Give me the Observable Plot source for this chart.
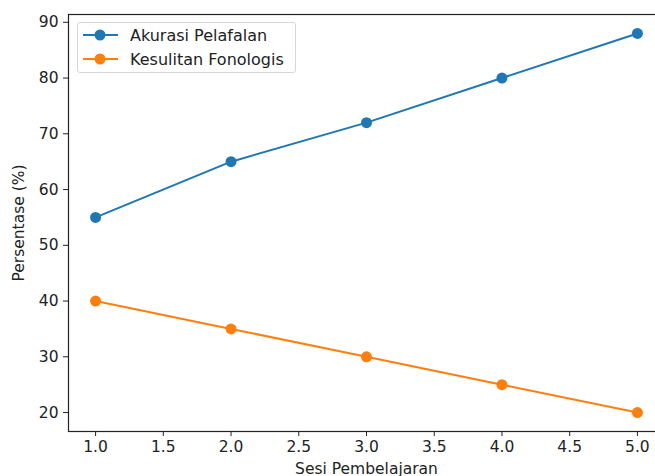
<!DOCTYPE html>
<html>
<head>
<meta charset="utf-8">
<script src="https://cdn.jsdelivr.net/npm/d3@7"></script>
<script src="https://cdn.jsdelivr.net/npm/@observablehq/plot@0.6"></script>
<style>
  html, body { margin: 0; padding: 0; background: #fff; overflow: hidden; width: 655px; height: 476px; }
  #wrap { position: relative; width: 655px; height: 476px; overflow: hidden; }
  #wrap > svg { max-width: none !important; position: absolute; left: 0; top: 0; }
  #legend { position: absolute; left: 77px; top: 22px; width: 219px; height: 51px; box-sizing: border-box;
    border: 1px solid #d6d6d6; border-radius: 3px; background: rgba(255,255,255,0.8);
    font-family: "DejaVu Sans", sans-serif; font-size: 16px; color: #222; }
  .row { position: absolute; left: 4px; height: 20px; display: flex; align-items: center; white-space: nowrap; }
  .row svg { margin-right: 11px; }
</style>
</head>
<body>
<div id="wrap"></div>
<script>
const sesi = [1, 2, 3, 4, 5];
const akurasi = [55, 65, 72, 80, 88];
const kesulitan = [40, 35, 30, 25, 20];
const seriesNames = ["Akurasi Pelafalan", "Kesulitan Fonologis"];
const seriesColors = ["#1f77b4", "#ff7f0e"];
const xTicks = [1, 1.5, 2, 2.5, 3, 3.5, 4, 4.5, 5];
const yTicks = [20, 30, 40, 50, 60, 70, 80, 90];

const data = [];
sesi.forEach((s, i) => data.push({sesi: s, nilai: akurasi[i], seri: seriesNames[0]}));
sesi.forEach((s, i) => data.push({sesi: s, nilai: kesulitan[i], seri: seriesNames[1]}));

const chart = Plot.plot({
  width: 672,
  height: 476,
  marginLeft: 68,
  marginRight: 8,
  marginTop: 14,
  marginBottom: 45,
  style: {fontFamily: "DejaVu Sans, sans-serif", fontSize: "15.5px", color: "#222", background: "#fff", maxWidth: "none"},
  x: {domain: [0.8, 5.2], ticks: xTicks, tickFormat: d => d.toFixed(1)},
  y: {domain: [16.6, 91.4], ticks: yTicks},
  color: {domain: seriesNames, range: seriesColors},
  marks: [
    Plot.frame({stroke: "#222", strokeWidth: 1.2}),
    Plot.axisX({ticks: xTicks, tickFormat: d => d.toFixed(1), tickSize: 5, tickPadding: 4, stroke: "#222",
      label: "Sesi Pembelajaran", labelAnchor: "center", labelArrow: false, labelOffset: 42, fontSize: 15.5}),
    Plot.axisY({ticks: yTicks, tickSize: 5, tickPadding: 5, stroke: "#222",
      label: "Persentase (%)", labelAnchor: "center", labelArrow: false, labelOffset: 56, fontSize: 15.5}),
    Plot.line(data, {x: "sesi", y: "nilai", stroke: "seri", strokeWidth: 2}),
    Plot.dot(data, {x: "sesi", y: "nilai", fill: "seri", r: 5.5})
  ]
});
const wrap = document.getElementById("wrap");
wrap.appendChild(chart);

const legend = document.createElement("div");
legend.id = "legend";
seriesNames.forEach((name, i) => {
  const row = document.createElement("div");
  row.className = "row";
  row.style.top = (2 + i * 24) + "px";
  row.innerHTML = `<svg width="37" height="14"><line x1="1" y1="7" x2="36" y2="7" stroke="${seriesColors[i]}" stroke-width="2"/><circle cx="18" cy="7" r="5.5" fill="${seriesColors[i]}"/></svg><span>${name}</span>`;
  legend.appendChild(row);
});
wrap.appendChild(legend);
</script>
</body>
</html>
